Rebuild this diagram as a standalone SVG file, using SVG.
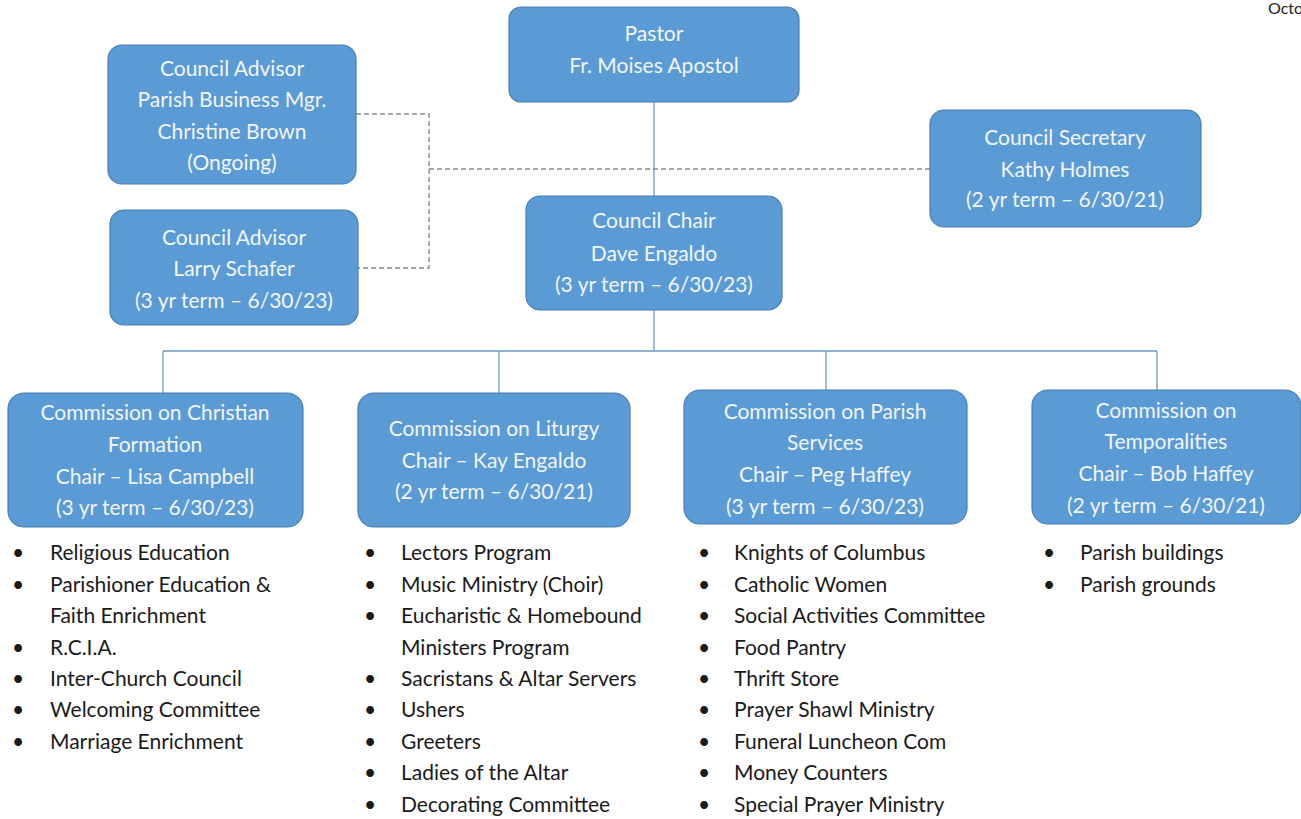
<svg xmlns="http://www.w3.org/2000/svg" width="1301" height="819" viewBox="0 0 1301 819">
<style>
.box{fill:#5b9bd5;stroke:#4a7fb0;stroke-width:1.2}
.bt{font-family:Lato,"Liberation Sans",sans-serif;font-size:21px;fill:#f2f5fa;text-anchor:middle}
.li{font-family:Lato,"Liberation Sans",sans-serif;font-size:21px;fill:#1a1a1a}
.solid{stroke:#6a9cc4;stroke-width:1.3;fill:none}
.dash{stroke:#7d8a96;stroke-width:1.3;fill:none;stroke-dasharray:5 3}
</style>
<rect width="1301" height="819" fill="#ffffff"/>
<text x="1268" y="14" style="font-family:Lato,'Liberation Sans',sans-serif;font-size:16px;fill:#222">Octo</text>
<g id="connectors">
<path class="solid" d="M654 102V196M654 310V351M163 351H1157M163 351V393M499 351V393M826 351V390M1157 351V390"/>
<path class="dash" d="M356 114H429V268H358M429 169H930"/>
</g>
<g id="pastor">
<rect class="box" x="509" y="7" width="290" height="95" rx="12"/>
<text class="bt" x="654" y="41">Pastor</text>
<text class="bt" x="654" y="73">Fr. Moises Apostol</text>
</g>
<g id="advisor1">
<rect class="box" x="108" y="45" width="248" height="139" rx="14"/>
<text class="bt" x="232" y="76">Council Advisor</text>
<text class="bt" x="232" y="107">Parish Business Mgr.</text>
<text class="bt" x="232" y="139">Christine Brown</text>
<text class="bt" x="232" y="170">(Ongoing)</text>
</g>
<g id="advisor2">
<rect class="box" x="110" y="210" width="248" height="115" rx="14"/>
<text class="bt" x="234" y="245">Council Advisor</text>
<text class="bt" x="234" y="276">Larry Schafer</text>
<text class="bt" x="234" y="308">(3 yr term – 6/30/23)</text>
</g>
<g id="chair">
<rect class="box" x="526" y="196" width="256" height="114" rx="14"/>
<text class="bt" x="654" y="228">Council Chair</text>
<text class="bt" x="654" y="261">Dave Engaldo</text>
<text class="bt" x="654" y="292">(3 yr term – 6/30/23)</text>
</g>
<g id="secretary">
<rect class="box" x="930" y="110" width="271" height="117" rx="14"/>
<text class="bt" x="1065" y="145">Council Secretary</text>
<text class="bt" x="1065" y="177">Kathy Holmes</text>
<text class="bt" x="1065" y="207">(2 yr term – 6/30/21)</text>
</g>
<g id="commission-formation">
<rect class="box" x="8" y="393" width="295" height="134" rx="16"/>
<text class="bt" x="155" y="420">Commission on Christian</text>
<text class="bt" x="155" y="452">Formation</text>
<text class="bt" x="155" y="484">Chair – Lisa Campbell</text>
<text class="bt" x="155" y="515">(3 yr term – 6/30/23)</text>
</g>
<g id="commission-liturgy">
<rect class="box" x="358" y="393" width="272" height="134" rx="16"/>
<text class="bt" x="494" y="436">Commission on Liturgy</text>
<text class="bt" x="494" y="468">Chair – Kay Engaldo</text>
<text class="bt" x="494" y="499">(2 yr term – 6/30/21)</text>
</g>
<g id="commission-services">
<rect class="box" x="684" y="390" width="283" height="134" rx="16"/>
<text class="bt" x="825" y="419">Commission on Parish</text>
<text class="bt" x="825" y="450">Services</text>
<text class="bt" x="825" y="482">Chair – Peg Haffey</text>
<text class="bt" x="825" y="514">(3 yr term – 6/30/23)</text>
</g>
<g id="commission-temporalities">
<rect class="box" x="1032" y="390" width="269" height="134" rx="16"/>
<text class="bt" x="1166" y="418">Commission on</text>
<text class="bt" x="1166" y="449">Temporalities</text>
<text class="bt" x="1166" y="481">Chair – Bob Haffey</text>
<text class="bt" x="1166" y="513">(2 yr term – 6/30/21)</text>
</g>
<g id="list-formation" class="li">
<text x="12" y="560">•</text><text x="50" y="560">Religious Education</text>
<text x="12" y="592">•</text><text x="50" y="592">Parishioner Education &amp;</text>
<text x="50" y="623">Faith Enrichment</text>
<text x="12" y="655">•</text><text x="50" y="655">R.C.I.A.</text>
<text x="12" y="686">•</text><text x="50" y="686">Inter-Church Council</text>
<text x="12" y="717">•</text><text x="50" y="717">Welcoming Committee</text>
<text x="12" y="749">•</text><text x="50" y="749">Marriage Enrichment</text>
</g>
<g id="list-liturgy" class="li">
<text x="364" y="560">•</text><text x="401" y="560">Lectors Program</text>
<text x="364" y="592">•</text><text x="401" y="592">Music Ministry (Choir)</text>
<text x="364" y="623">•</text><text x="401" y="623">Eucharistic &amp; Homebound</text>
<text x="401" y="655">Ministers Program</text>
<text x="364" y="686">•</text><text x="401" y="686">Sacristans &amp; Altar Servers</text>
<text x="364" y="717">•</text><text x="401" y="717">Ushers</text>
<text x="364" y="749">•</text><text x="401" y="749">Greeters</text>
<text x="364" y="780">•</text><text x="401" y="780">Ladies of the Altar</text>
<text x="364" y="812">•</text><text x="401" y="812">Decorating Committee</text>
</g>
<g id="list-services" class="li">
<text x="698" y="560">•</text><text x="734" y="560">Knights of Columbus</text>
<text x="698" y="592">•</text><text x="734" y="592">Catholic Women</text>
<text x="698" y="623">•</text><text x="734" y="623">Social Activities Committee</text>
<text x="698" y="655">•</text><text x="734" y="655">Food Pantry</text>
<text x="698" y="686">•</text><text x="734" y="686">Thrift Store</text>
<text x="698" y="717">•</text><text x="734" y="717">Prayer Shawl Ministry</text>
<text x="698" y="749">•</text><text x="734" y="749">Funeral Luncheon Com</text>
<text x="698" y="780">•</text><text x="734" y="780">Money Counters</text>
<text x="698" y="812">•</text><text x="734" y="812">Special Prayer Ministry</text>
</g>
<g id="list-temporalities" class="li">
<text x="1043" y="560">•</text><text x="1080" y="560">Parish buildings</text>
<text x="1043" y="592">•</text><text x="1080" y="592">Parish grounds</text>
</g>
</svg>
